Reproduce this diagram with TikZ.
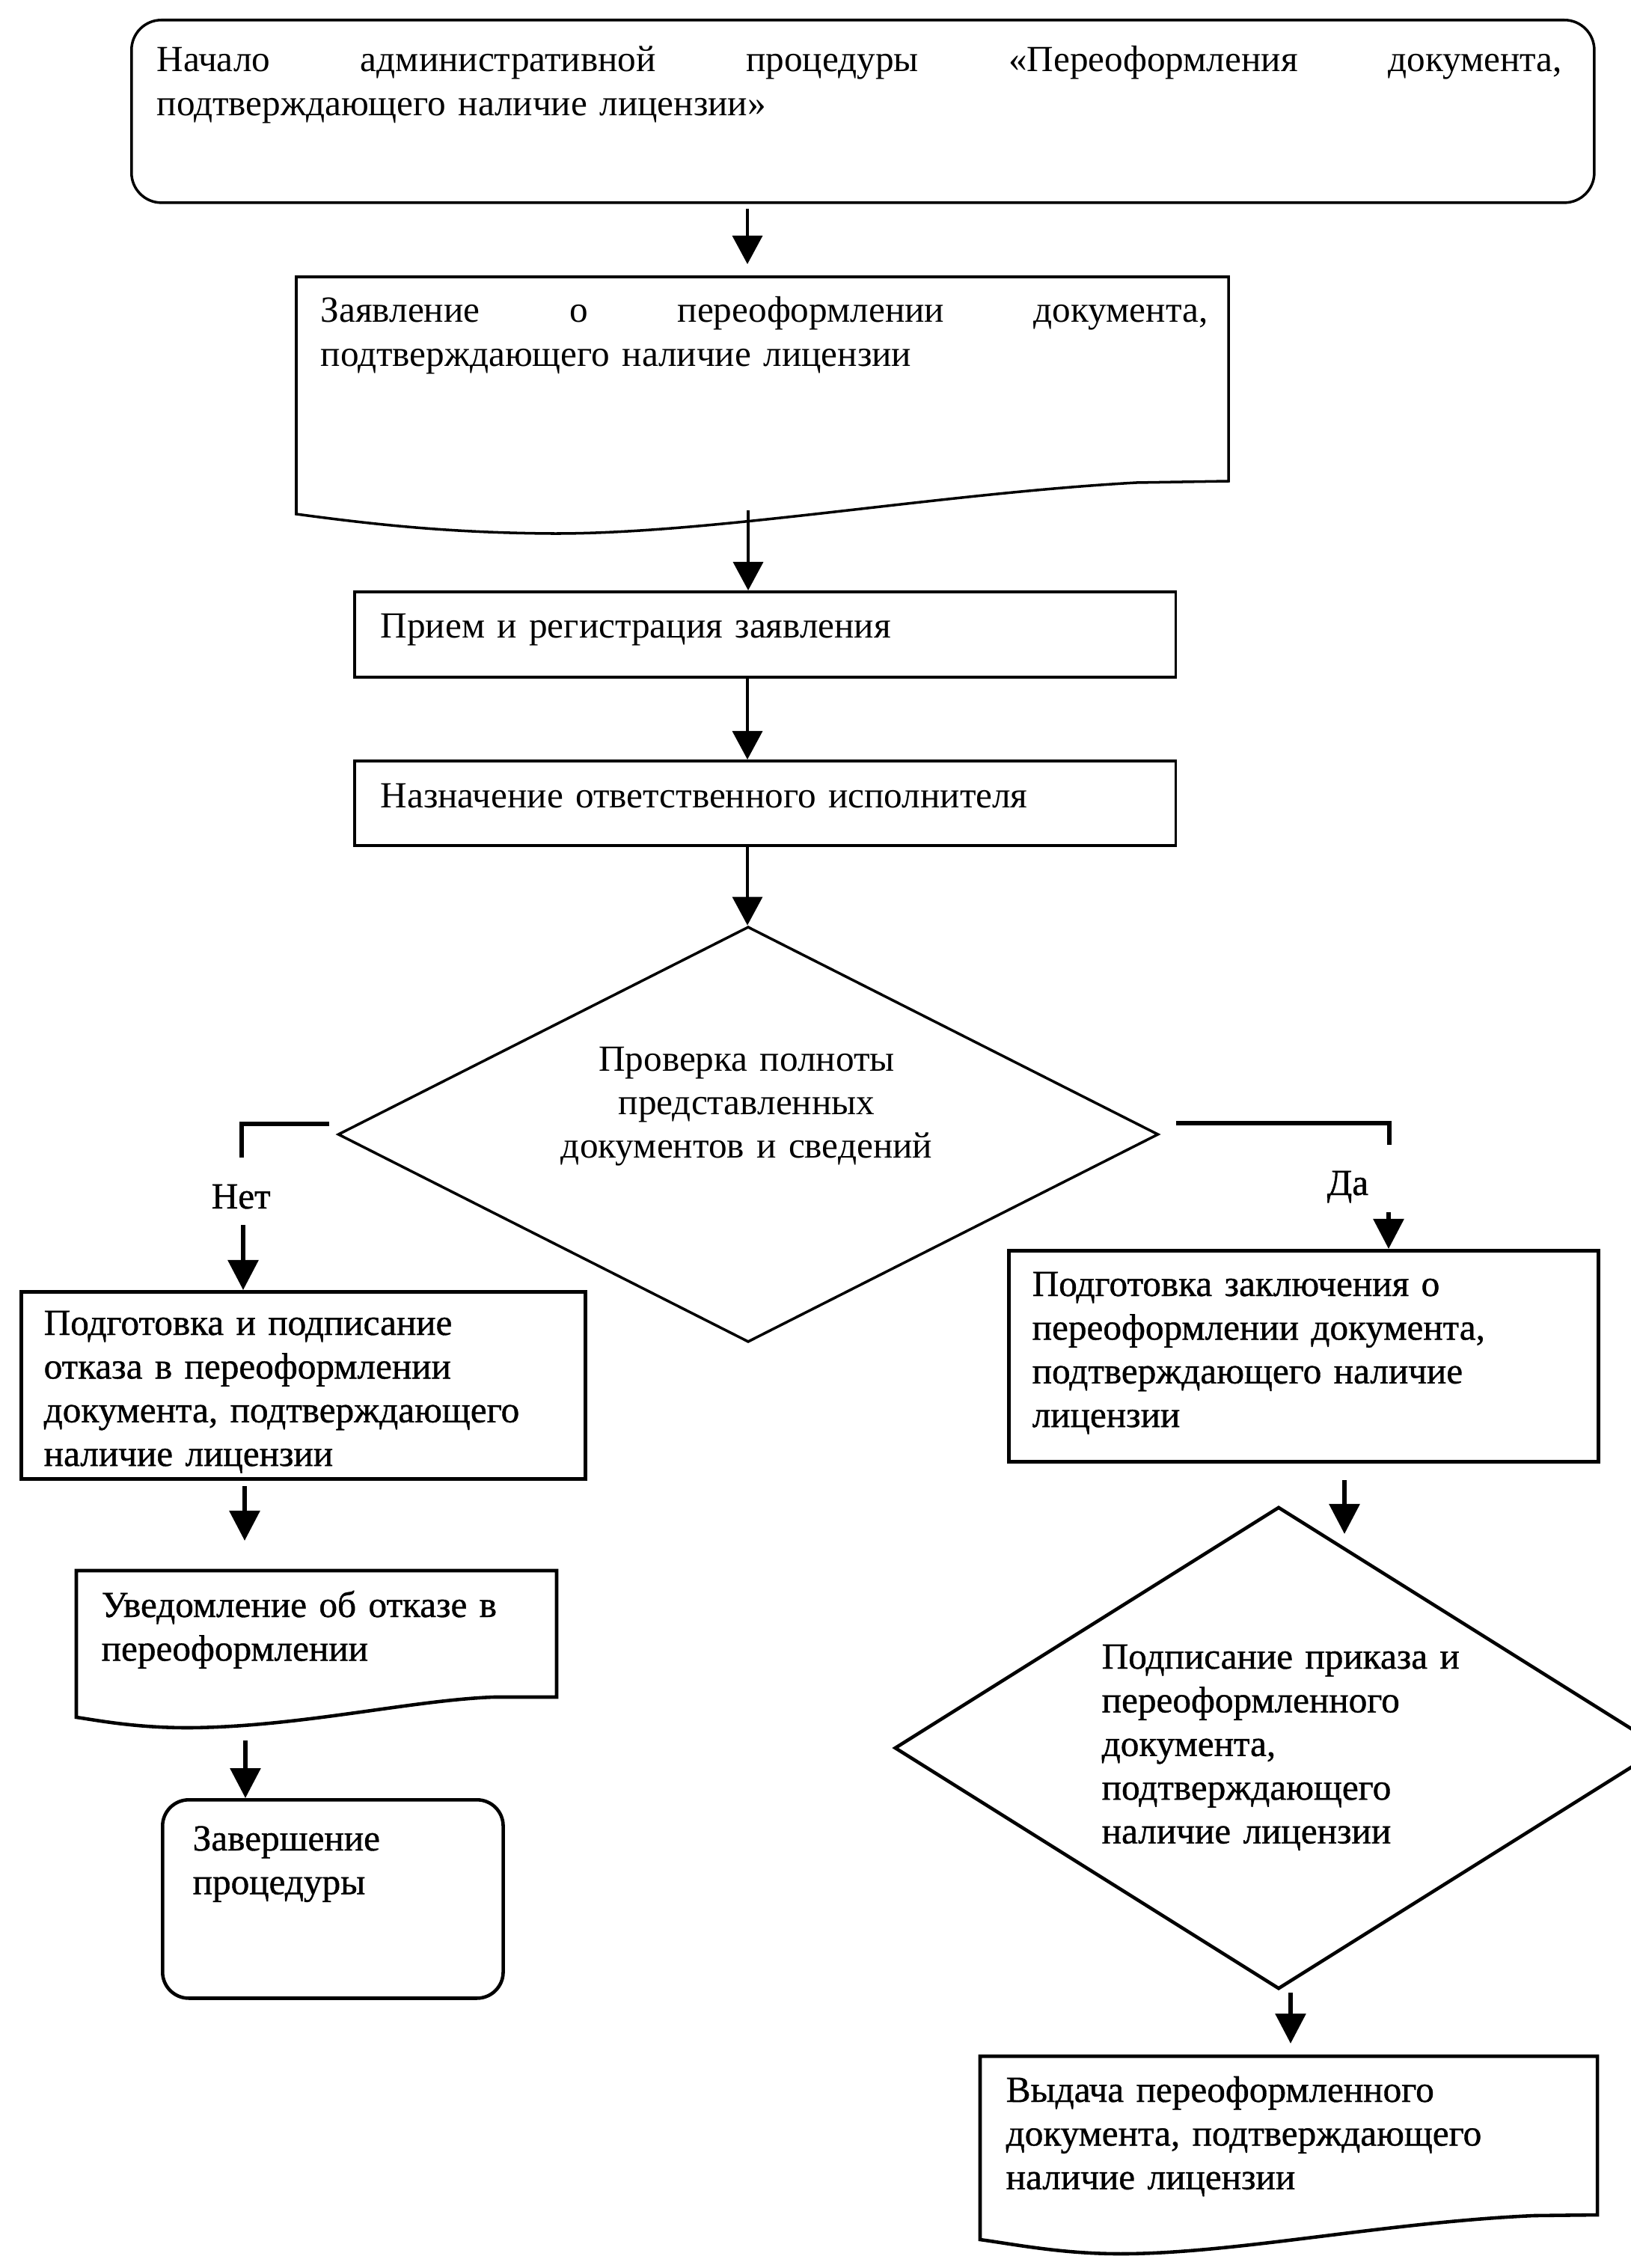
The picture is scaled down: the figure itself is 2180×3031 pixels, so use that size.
\documentclass[tikz,border=0pt]{standalone}
\usepackage{fontspec}
\setmainfont{Liberation Serif}
\newfontfamily\heavyserif[FakeBold=0.8]{Liberation Serif}
\usetikzlibrary{arrows.meta,shapes.geometric}
\begin{document}
\begin{tikzpicture}[x=0.01cm,y=-0.01cm,
  shp/.style={draw, line width=1pt},
  bshp/.style={draw, line width=1.3pt},
  box/.style={shp, rectangle, anchor=north west, inner sep=0pt},
  bbox/.style={bshp, rectangle, anchor=north west, inner sep=0pt},
  txt/.style={inner sep=0pt, anchor=base west, align=left, text width=20cm, font=\fontsize{14}{16.6}\selectfont},
  btxt/.style={txt, font=\heavyserif\fontsize{14}{16.6}\selectfont},
  ctxt/.style={inner sep=0pt, anchor=base, align=center, text width=7cm, font=\fontsize{14}{16.6}\selectfont},
  arr/.style={-{Triangle[length=0.38cm,width=0.40cm]}, line width=1pt},
  barr/.style={-{Triangle[length=0.40cm,width=0.40cm]}, line width=1.7pt},
  brk/.style={line width=1.7pt}]
\useasboundingbox (0,0) rectangle (2180,3031);

% ---- start (rounded) ----
\node[box, rounded corners=0.4cm, minimum width=19.54cm, minimum height=2.44cm] (start) at (174,25) {};
\node[txt] (tstart) at (209,96) {\hbox to 18.77cm{Начало\hfill административной\hfill процедуры\hfill «Переоформления\hfill документа,}\\подтверждающего наличие лицензии»};

% ---- application document ----
\draw[shp] (396,687) -- (396,370) -- (1642,370) -- (1642,643) -- (1519,645)
  .. controls (1250,660) and (950,714) .. (737,713)
  .. controls (600,712) and (500,701) .. (396,687) -- cycle;
\node[txt] (tzayav) at (428,431) {\hbox to 11.85cm{Заявление\hfill о\hfill переоформлении\hfill документа,}\\подтверждающего наличие лицензии};

% ---- reception ----
\node[box, minimum width=10.97cm, minimum height=1.14cm] (priem) at (472,789) {};
\node[txt] (tpriem) at (508,853) {Прием и регистрация заявления};

% ---- assignment ----
\node[box, minimum width=10.97cm, minimum height=1.13cm] (naznach) at (472,1015) {};
\node[txt] (tnaznach) at (508,1079) {Назначение ответственного исполнителя};

% ---- decision 1 ----
\node[shp, diamond, inner sep=0pt, minimum width=10.96cm, minimum height=5.55cm] (d1) at (1000,1516) {};
\node[ctxt] (td1) at (998,1431) {Проверка полноты\\представленных\\документов и сведений};

% ---- arrows top part ----
\coordinate (a1s) at (999,279);  \coordinate (a1e) at (999,353);
\draw[arr] (a1s) -- (a1e);
\coordinate (a2s) at (1000,682);
\draw[arr] (a2s) -- (a2s |- priem.north);
\coordinate (a3s) at (999,903);
\draw[arr] (a3s) -- (a3s |- naznach.north);
\coordinate (a4s) at (999,1128);
\draw[arr] (a4s) -- (a4s |- d1.north);

% ---- No branch ----
\coordinate (netA) at (440,1502); \coordinate (netB) at (323,1502); \coordinate (netC) at (323,1547);
\draw[brk] (netA) -- (netB) -- (netC);
\node[btxt] (tnet) at (282,1615) {Нет};
\node[bbox, minimum width=7.54cm, minimum height=2.50cm] (otkaz) at (26,1724) {};
\coordinate (an1) at (325,1637);
\draw[barr] (an1) -- (an1 |- otkaz.north);
\node[btxt] (totkaz) at (58,1784) {Подготовка и подписание\\отказа в переоформлении\\документа, подтверждающего\\наличие лицензии};

\coordinate (an2s) at (327,1986); \coordinate (an2e) at (327,2059);
\draw[barr] (an2s) -- (an2e);

\draw[bshp] (102,2295) -- (102,2099) -- (744,2099) -- (744,2268) -- (660,2268)
  .. controls (550,2272) and (400,2308) .. (252,2309)
  .. controls (180,2309) and (130,2299) .. (102,2295) -- cycle;
\node[btxt] (tuved) at (135,2161) {Уведомление об отказе в\\переоформлении};

\node[bbox, rounded corners=0.35cm, minimum width=4.55cm, minimum height=2.65cm] (fin) at (215,2403) {};
\coordinate (an3) at (328,2326);
\draw[barr] (an3) -- (an3 |- fin.north);
\node[btxt] (tfin) at (257,2473) {Завершение\\процедуры};

% ---- Yes branch ----
\coordinate (daA) at (1572,1501); \coordinate (daB) at (1857,1501); \coordinate (daC) at (1857,1530);
\draw[brk] (daA) -- (daB) -- (daC);
\node[btxt] (tda) at (1773,1597) {Да};
\node[bbox, minimum width=7.88cm, minimum height=2.82cm] (zakl) at (1346,1669) {};
\coordinate (ad1) at (1856,1620);
\draw[barr] (ad1) -- (ad1 |- zakl.north);
\node[btxt] (tzakl) at (1379,1732) {Подготовка заключения о\\переоформлении документа,\\подтверждающего наличие\\лицензии};

\node[bshp, diamond, inner sep=0pt, minimum width=10.26cm, minimum height=6.44cm] (d2) at (1709,2336) {};
\coordinate (ad2s) at (1797,1978); \coordinate (ad2e) at (1797,2050);
\draw[barr] (ad2s) -- (ad2e);
\node[btxt] (td2) at (1472,2230) {Подписание приказа и\\переоформленного\\документа,\\подтверждающего\\наличие лицензии};

\coordinate (ad3s) at (1725,2663); \coordinate (ad3e) at (1725,2731);
\draw[barr] (ad3s) -- (ad3e);

\draw[bshp] (1310,2993) -- (1310,2748) -- (2135,2748) -- (2135,2960) -- (2050,2961)
  .. controls (1850,2970) and (1650,3012) .. (1498,3012)
  .. controls (1420,3012) and (1360,3000) .. (1310,2993) -- cycle;
\node[btxt] (tvyd) at (1344,2809) {Выдача переоформленного\\документа, подтверждающего\\наличие лицензии};
\end{tikzpicture}
\end{document}
